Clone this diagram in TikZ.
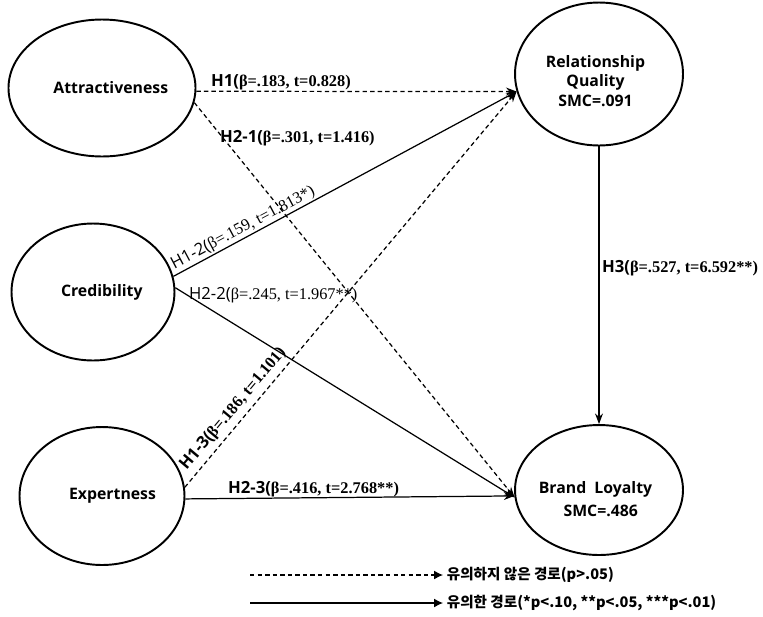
\documentclass[tikz,border=0pt]{standalone}
\usepackage{fontspec}
\setmainfont{Liberation Serif}
\newfontfamily\lblfont{Open Sans}
\newfontfamily\korfont{Noto Sans CJK KR}
\usetikzlibrary{shapes.geometric,arrows.meta}
\newcommand{\hyp}[2]{{\fontsize{9.5}{11}\selectfont #1(}{\rmfamily\fontsize{9.3}{11}\selectfont #2)}}
\begin{document}
\begin{tikzpicture}[x=0.02cm,y=-0.02cm,line join=round,>={Stealth[length=6pt,width=4.5pt]}]
\tikzset{every node/.style={font=\lblfont\bfseries\fontsize{9}{11.3}\selectfont},
	factor/.style={draw,ellipse,line width=1.1pt,inner sep=0pt,align=center},
	lbl/.style={align=center},
	ns/.style={dash pattern=on 2.5pt off 1.8pt},
	path/.style={->,line width=0.7pt},
	hlab/.style={inner sep=1pt}}
\useasboundingbox (0,0) rectangle (763,616);
% latent variables
\node[factor,minimum width=3.32cm,minimum height=2.74cm] (attr) at (102,88) {\hspace{10pt}Attractiveness};
\node[factor,minimum width=3.26cm,minimum height=2.74cm] (cred) at (93,292) {\hspace{10pt}Credibility};
\node[factor,minimum width=3.30cm,minimum height=2.76cm] (expt) at (102,496) {\hspace{12pt}Expertness};
\node[factor,minimum width=3.36cm,minimum height=2.86cm,label={[lbl,yshift=-4pt,xshift=-2pt]center:Relationship\\Quality\\SMC=.091}] (rq) at (599,74) {};
\node[factor,minimum width=3.36cm,minimum height=2.60cm,label={[lbl,yshift=-5pt,xshift=-2pt]center:Brand~~Loyalty\\[2pt]\hspace{6pt}SMC=.486}] (bl) at (599,490) {};
% paths
\draw[path,ns] (attr.-2) -- (rq.192);
\draw[path,ns] (attr.-9) -- (bl.185);
\draw[path] (cred.11) -- (rq.192);
\draw[path] (cred.3) -- (bl.185);
\draw[path,ns] (expt.6) -- (rq.192);
\draw[path] (expt.-2) -- (bl.184);
\draw[path] (rq.south) -- (bl.north);
% coefficients
\node[hlab,anchor=west] (h1) at (209,82) {\hyp{H1}{β=.183, t=0.828}};
\node[hlab,anchor=west] (h21) at (218,138) {\hyp{H2-1}{β=.301, t=1.416}};
\node[hlab,rotate=28,font=\lblfont\mdseries\fontsize{9}{11}\selectfont] (h12) at (243,228) {\hyp{H1-2}{β=.159, t=1.813*}};
\node[hlab,anchor=west,font=\lblfont\mdseries\fontsize{9}{11}\selectfont] (h22) at (187,295) {\hyp{H2-2}{β=.245, t=1.967**}};
\node[hlab,rotate=50] (h13) at (233,409) {\hyp{H1-3}{β=.186, t=1.101}};
\node[hlab,anchor=west] (h23) at (226,489) {\hyp{H2-3}{β=.416, t=2.768**}};
\node[hlab,anchor=west] (h3) at (600,268) {\hyp{H3}{β=.527, t=6.592**}};
% legend
\coordinate (ns0) at (250,575);
\coordinate (s0) at (250,603);
\node[anchor=west,inner sep=2pt,font=\korfont\bfseries\fontsize{8.3}{10}\selectfont] (nstxt) at (443,575) {유의하지 않은 경로(p>.05)};
\node[anchor=west,inner sep=2pt,font=\korfont\bfseries\fontsize{8.3}{10}\selectfont] (stxt) at (443,603) {유의한 경로(*p<.10, **p<.05, ***p<.01)};
\draw[-{Latex[length=5pt,width=5pt]},line width=0.7pt,ns] (ns0) -- (nstxt.west);
\draw[-{Latex[length=5pt,width=5pt]},line width=0.7pt] (s0) -- (stxt.west);
\end{tikzpicture}
\end{document}
